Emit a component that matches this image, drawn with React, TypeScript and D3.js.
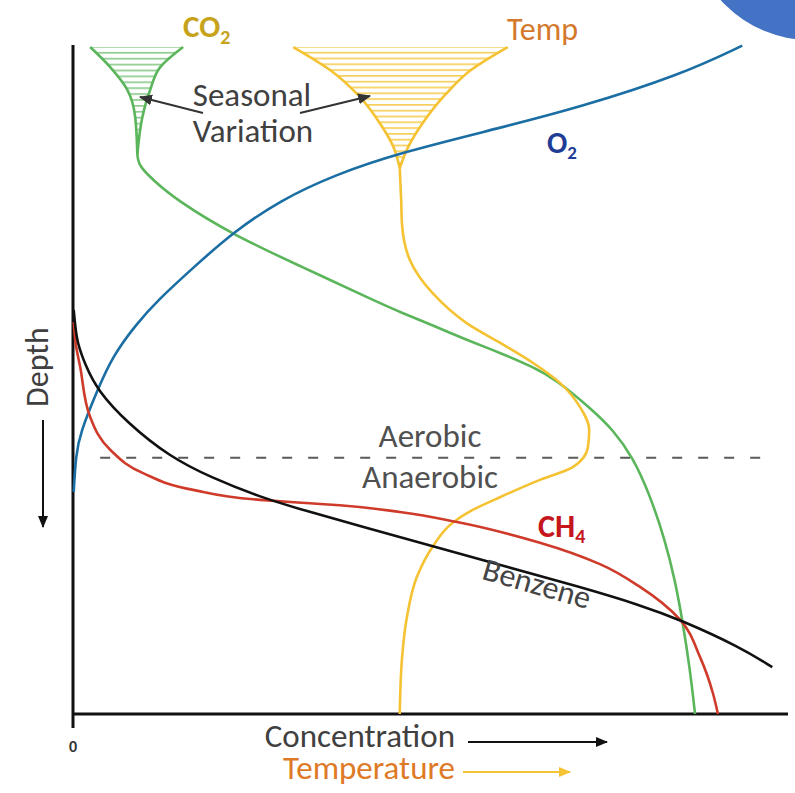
import React from "react";
import * as d3 from "d3";

// Concentration (0-100, arbitrary) vs depth (0-100, arbitrary, downward)
const o2Conc = [0.1, 0.4, 1.0, 3.4, 5.5, 8.7, 11.9, 17.1, 22.4, 29.0, 36.6, 45.7, 59.7, 70.9, 84.9, 93.6];
const o2Depth = [66.8, 61.3, 58.0, 51.6, 46.6, 41.9, 38.1, 33.0, 28.0, 23.2, 19.4, 16.1, 12.4, 9.3, 4.5, 0.1];

const co2FunnelDepth = [0.3, 3.3, 6.7, 10.8, 16.4];
const co2FunnelLeft = [2.4, 5.2, 7.6, 8.7, 9.0];
const co2FunnelRight = [15.4, 12.2, 10.8, 9.7, 9.0];
const co2Conc = [9.0, 9.1, 9.4, 11.2, 14.5, 22.4, 31.7, 42.9, 45.7, 50.3, 55.1, 59.7, 64.3, 67.7, 72.7, 75.5, 78.3, 80.7, 82.8, 84.2, 85.3, 86.3, 87.0];
const co2Depth = [16.4, 17.2, 18.2, 20.2, 23.2, 28.4, 33.0, 38.6, 39.9, 41.9, 44.1, 46.0, 48.1, 50.1, 54.6, 57.5, 61.6, 67.3, 74.0, 80.0, 86.4, 93.4, 100];

const tempFunnelDepth = [0.3, 3.7, 7.5, 12.0, 15.2, 18.4];
const tempFunnelLeft = [30.8, 35.9, 39.9, 43.1, 44.8, 45.7];
const tempFunnelRight = [60.8, 55.7, 52.0, 48.7, 46.9, 45.7];
const tempVal = [45.7, 45.9, 46.0, 47.1, 50.3, 55.1, 59.7, 64.3, 68.1, 70.9, 72.2, 72.0, 69.9, 65.3, 59.7, 55.9, 53.1, 50.3, 48.1, 46.7, 46.0, 45.7];
const tempDepth = [18.4, 23.2, 26.6, 32.1, 37.1, 41.6, 44.5, 47.5, 50.5, 54.1, 57.5, 60.2, 63.1, 65.0, 67.6, 69.5, 71.4, 75.0, 79.5, 85.5, 91.9, 100];

const ch4Conc = [0.1, 0.4, 1.0, 2.4, 5.2, 9.8, 16.8, 26.2, 33.1, 37.3, 45.7, 53.7, 65.3, 73.7, 79.3, 84.9, 87.7, 89.5, 90.2];
const ch4Depth = [41.4, 44.8, 48.1, 55.6, 60.5, 64.0, 66.5, 68.0, 68.5, 68.8, 69.8, 71.3, 74.4, 77.6, 81.0, 85.9, 91.5, 96.9, 100];

const benzConc = [0.1, 0.3, 0.6, 1.7, 3.4, 7.6, 13.6, 19.2, 26.2, 33.1, 40.1, 50.3, 60.7, 70.9, 79.3, 84.9, 93.3, 97.8];
const benzDepth = [39.6, 41.9, 44.5, 47.8, 51.6, 56.5, 61.6, 64.6, 67.6, 69.8, 71.9, 74.9, 78.0, 81.0, 83.7, 85.9, 90.0, 93.0];

const boundaryDepth = 61.7;
const boundaryRange = [3.8, 98.2];
const xTicks = [0];

const FONT = "Carlito, Lato, 'Liberation Sans', sans-serif";

export default function App() {
  const x = d3.scaleLinear().domain([0, 100]).range([73, 788]);
  const y = d3.scaleLinear().domain([0, 100]).range([45, 714]);
  const mkLine = (c: d3.CurveFactory) =>
    d3
      .line<[number, number]>()
      .x((d) => x(d[0]))
      .y((d) => y(d[1]))
      .curve(c);
  const line = mkLine(d3.curveMonotoneY);
  const smooth = mkLine(d3.curveBasis);
  const zip = (a: number[], b: number[]) =>
    a.map((v, i) => [v, b[i]] as [number, number]).sort((p, q) => p[1] - q[1]);
  type F = { d: number; l: number; r: number };
  const area = d3
    .area<F>()
    .y((d) => y(d.d))
    .x0((d) => x(d.l))
    .x1((d) => x(d.r))
    .curve(d3.curveMonotoneY);
  const co2F: F[] = co2FunnelDepth.map((d, i) => ({ d, l: co2FunnelLeft[i], r: co2FunnelRight[i] }));
  const tempF: F[] = tempFunnelDepth.map((d, i) => ({ d, l: tempFunnelLeft[i], r: tempFunnelRight[i] }));

  const green = "#5bb55b";
  const blue = "#1b6ea3";
  const yellow = "#f4c232";
  const red = "#cf3b2a";
  const sw = 2.6;

  return (
    <svg width={795} height={793} style={{ position: "absolute", left: 0, top: 0, background: "#fff" }}>
      <defs>
        <pattern id="hatchG" patternUnits="userSpaceOnUse" width={10} height={5.9} y={46}>
          <rect x={0} y={0} width={10} height={1.7} fill="#8fcc8f" />
        </pattern>
        <pattern id="hatchY" patternUnits="userSpaceOnUse" width={10} height={5.8} y={46}>
          <rect x={0} y={0} width={10} height={1.7} fill="#f6cf5c" />
        </pattern>
        <marker id="arrK" viewBox="0 0 12 10" refX={11} refY={5} markerWidth={12} markerHeight={10} markerUnits="userSpaceOnUse" orient="auto">
          <path d="M0,0 L12,5 L0,10 z" fill="#111" />
        </marker>
        <marker id="arrG" viewBox="0 0 12 10" refX={11} refY={5} markerWidth={13} markerHeight={11} markerUnits="userSpaceOnUse" orient="auto">
          <path d="M0,0 L12,5 L0,10 z" fill="#333" />
        </marker>
        <marker id="arrY" viewBox="0 0 12 10" refX={11} refY={5} markerWidth={12} markerHeight={10} markerUnits="userSpaceOnUse" orient="auto">
          <path d="M0,0 L12,5 L0,10 z" fill={yellow} />
        </marker>
      </defs>

      {/* decorative circle top-right */}
      <circle cx={810} cy={-80} r={120} fill="#4472c4" />

      {/* axes */}
      <line x1={x(0)} y1={y(0)} x2={x(0)} y2={y(100)} stroke="#111" strokeWidth={3} />
      <line x1={x(0)} y1={y(100)} x2={x(100)} y2={y(100)} stroke="#111" strokeWidth={3} />
      {xTicks.map((t) => (
        <g key={t}>
          <line x1={x(t)} y1={y(100)} x2={x(t)} y2={y(100) + 14} stroke="#111" strokeWidth={3} />
          <text x={x(t)} y={y(100) + 38} textAnchor="middle" fontSize={16} fontWeight="bold" fontFamily={FONT} fill="#333">
            {t}
          </text>
        </g>
      ))}

      {/* boundary */}
      <line
        x1={x(boundaryRange[0])}
        x2={x(boundaryRange[1])}
        y1={y(boundaryDepth)}
        y2={y(boundaryDepth)}
        stroke="#5a5a5a"
        strokeWidth={2}
        strokeDasharray="10 16"
      />

      {/* funnels */}
      <path d={area(co2F) || ""} fill="url(#hatchG)" />
      <path d={line(zip(co2FunnelLeft, co2FunnelDepth)) || ""} fill="none" stroke={green} strokeWidth={sw} />
      <path d={line(zip(co2FunnelRight, co2FunnelDepth)) || ""} fill="none" stroke={green} strokeWidth={sw} />
      <path d={area(tempF) || ""} fill="url(#hatchY)" />
      <path d={line(zip(tempFunnelLeft, tempFunnelDepth)) || ""} fill="none" stroke={yellow} strokeWidth={sw} />
      <path d={line(zip(tempFunnelRight, tempFunnelDepth)) || ""} fill="none" stroke={yellow} strokeWidth={sw} />

      {/* curves */}
      <path d={smooth(zip(co2Conc, co2Depth)) || ""} fill="none" stroke={green} strokeWidth={sw} />
      <path d={line(zip(tempVal, tempDepth)) || ""} fill="none" stroke={yellow} strokeWidth={sw} />
      <path d={smooth(zip(o2Conc, o2Depth)) || ""} fill="none" stroke={blue} strokeWidth={sw} />
      <path d={line(zip(ch4Conc, ch4Depth)) || ""} fill="none" stroke={red} strokeWidth={sw} />
      <path d={smooth(zip(benzConc, benzDepth)) || ""} fill="none" stroke="#111" strokeWidth={sw} />

      {/* labels */}
      <text x={183} y={37} fontSize={31} fontWeight="bold" fontFamily={FONT} fill="#c6a31a">
        CO<tspan fontSize={20} dy={7}>2</tspan>
      </text>
      <text x={507} y={40} fontSize={32} fontFamily={FONT} fill="#d4792c">
        Temp
      </text>
      <text x={547} y={153} fontSize={30} fontWeight="bold" fontFamily={FONT} fill="#1f3d96">
        O<tspan fontSize={19} dy={6}>2</tspan>
      </text>
      <text x={538} y={537} fontSize={32} fontWeight="bold" fontFamily={FONT} fill="#c4161c">
        CH<tspan fontSize={20} dy={6}>4</tspan>
      </text>
      <text x={252} y={106} textAnchor="middle" fontSize={33} fontFamily={FONT} fill="#404040">
        Seasonal
      </text>
      <text x={253} y={142} textAnchor="middle" fontSize={33} fontFamily={FONT} fill="#404040">
        Variation
      </text>
      <line x1={203} y1={113} x2={140} y2={97} stroke="#333" strokeWidth={2.2} markerEnd="url(#arrG)" />
      <line x1={300} y1={113} x2={370} y2={96} stroke="#333" strokeWidth={2.2} markerEnd="url(#arrG)" />

      <text x={430} y={447} textAnchor="middle" fontSize={33} fontFamily={FONT} fill="#505050">
        Aerobic
      </text>
      <text x={430} y={488} textAnchor="middle" fontSize={33} fontFamily={FONT} fill="#505050">
        Anaerobic
      </text>
      <text
        x={534}
        y={594}
        textAnchor="middle"
        fontSize={32}
        fontFamily={FONT}
        fill="#444"
        transform="rotate(16 534 594)"
      >
        Benzene
      </text>

      <text x={48} y={367} textAnchor="middle" fontSize={32} fontFamily={FONT} fill="#404040" transform="rotate(-90 48 367)">
        Depth
      </text>
      <line x1={43} y1={420} x2={43} y2={527} stroke="#111" strokeWidth={2} markerEnd="url(#arrK)" />

      <text x={455} y={747} textAnchor="end" fontSize={33} fontFamily={FONT} fill="#404040">
        Concentration
      </text>
      <line x1={468} y1={742} x2={607} y2={742} stroke="#111" strokeWidth={2} markerEnd="url(#arrK)" />
      <text x={455} y={779} textAnchor="end" fontSize={33} fontFamily={FONT} fill="#de7a26">
        Temperature
      </text>
      <line x1={463} y1={772} x2={570} y2={772} stroke={yellow} strokeWidth={2} markerEnd="url(#arrY)" />
    </svg>
  );
}
